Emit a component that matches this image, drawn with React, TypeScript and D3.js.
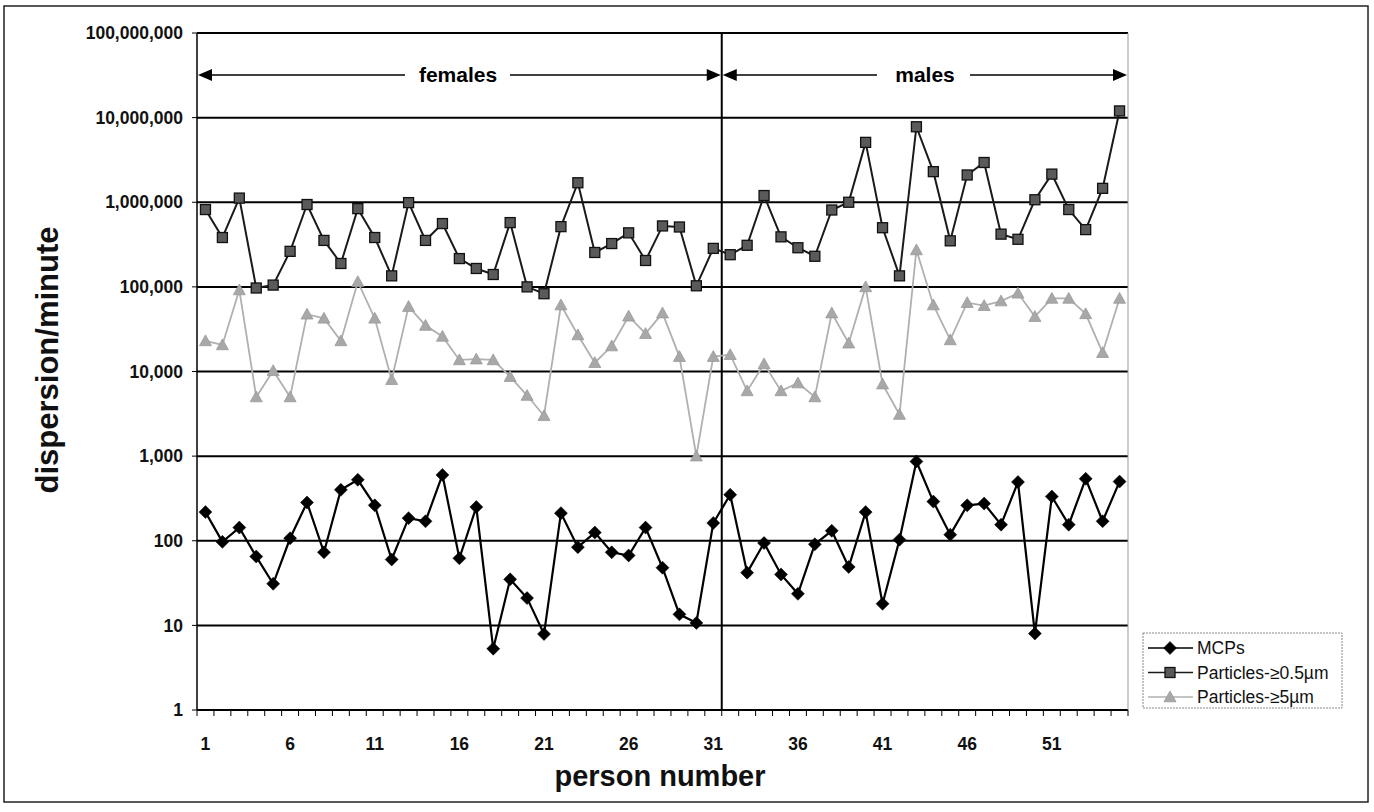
import React from 'react';
import * as d3 from 'd3';

// person numbers 1..55
const persons = d3.range(1, 56);

const mcps = [
  218, 97, 143, 65, 31, 107, 283, 73, 400, 525,
  262, 60, 185, 170, 600, 62, 250, 5.3, 35, 21,
  7.9, 212, 84, 125, 73, 67, 143, 48, 13.5, 10.7,
  162, 350, 42, 94, 40, 23.6, 91, 131, 49, 218,
  18, 103, 865, 290, 118, 262, 275, 155, 494, 8,
  333, 155, 540, 170, 500,
];

const particles05 = [
  820000, 383000, 1120000, 97000, 105000, 263000, 940000, 354000, 189000, 840000,
  383000, 135000, 990000, 354000, 560000, 216000, 165000, 140000, 575000, 100000,
  83000, 515000, 1700000, 255000, 325000, 435000, 205000, 525000, 510000, 103000,
  285000, 240000, 310000, 1200000, 390000, 290000, 230000, 810000, 1000000, 5100000,
  500000, 135000, 7800000, 2300000, 350000, 2100000, 2950000, 420000, 365000, 1070000,
  2150000, 820000, 475000, 1460000, 12000000,
];

const particles5 = [
  23000, 20600, 92000, 5000, 10200, 5000, 47500, 42500, 23000, 115000,
  42500, 8000, 58500, 35000, 26000, 13700, 14000, 13700, 8700, 5200,
  3000, 61000, 27000, 12700, 20000, 45000, 28000, 49000, 15000, 1000,
  15000, 15800, 5900, 12300, 5900, 7300, 5000, 49000, 21600, 100000,
  7100, 3100, 273000, 61000, 23600, 65000, 60000, 68000, 84000, 44500,
  73000, 73000, 48000, 16700, 73000,
];

const xTickLabels = [1, 6, 11, 16, 21, 26, 31, 36, 41, 46, 51];
const yTicks = [1, 10, 100, 1000, 10000, 100000, 1000000, 10000000, 100000000];

const FONT = 'Arial, "Liberation Sans", Helvetica, sans-serif';

function Marker({ type, x, y }) {
  if (type === 'diamond') {
    const s = 6.5;
    return (
      <path
        d={`M${x},${y - s}L${x + s},${y}L${x},${y + s}L${x - s},${y}Z`}
        fill="#000"
        stroke="#000"
        strokeWidth={0.5}
      />
    );
  }
  if (type === 'square') {
    const s = 5;
    return (
      <rect x={x - s} y={y - s} width={2 * s} height={2 * s} fill="#5a5a5a" stroke="#111" strokeWidth={1.3} />
    );
  }
  const s = 6;
  return (
    <path
      d={`M${x},${y - s}L${x + s},${y + s * 0.8}L${x - s},${y + s * 0.8}Z`}
      fill="#a8a8a8"
      stroke="#999"
      strokeWidth={0.8}
    />
  );
}

export default function App() {
  const left = 197;
  const right = 1128;
  const top = 33;
  const bottom = 710;

  const x = d3.scaleBand().domain(persons).range([left, right]).paddingInner(0).paddingOuter(0);
  const cx = (p) => x(p) + x.bandwidth() / 2;
  const y = d3.scaleLog().domain([1, 1e8]).range([bottom, top]);
  const fmt = d3.format(',');

  const series = [
    { name: 'Particles-≥5µm', data: particles5, stroke: '#b0b0b0', width: 1.8, marker: 'triangle' },
    { name: 'Particles-≥0.5µm', data: particles05, stroke: '#1a1a1a', width: 2, marker: 'square' },
    { name: 'MCPs', data: mcps, stroke: '#000', width: 2.2, marker: 'diamond' },
  ];

  const line = d3
    .line()
    .x((d) => d[0])
    .y((d) => d[1]);

  const divider = x(32);
  const arrowY = 75;

  const arrowHead = (px, dir) => {
    const l = 14;
    const h = 6;
    return `M${px},${arrowY}L${px - dir * l},${arrowY - h}L${px - dir * l},${arrowY + h}Z`;
  };

  const legendItems = [series[2], series[1], series[0]];

  return (
    <svg width={1374} height={812} style={{ position: 'absolute', left: 0, top: 0, background: '#fff' }}>
      <rect x={0} y={0} width={1374} height={812} fill="#fff" />
      {/* outer frame */}
      <rect x={4} y={6} width={1364} height={796} fill="none" stroke="#222" strokeWidth={1.5} />

      {/* gridlines */}
      {yTicks.map((t) => (
        <g key={t}>
          <line x1={left} x2={right} y1={y(t)} y2={y(t)} stroke="#000" strokeWidth={2} />
          <line x1={left - 5} x2={left} y1={y(t)} y2={y(t)} stroke="#000" strokeWidth={1} />
          <text
            x={183}
            y={y(t)}
            dy="0.35em"
            textAnchor="end"
            fontFamily={FONT}
            fontWeight="bold"
            fontSize={17.5}
            fill="#111"
          >
            {fmt(t)}
          </text>
        </g>
      ))}

      {/* plot area right border */}
      <line x1={right} x2={right} y1={top} y2={bottom} stroke="#999" strokeWidth={1} />
      {/* y axis */}
      <line x1={left} x2={left} y1={top} y2={bottom} stroke="#000" strokeWidth={1.5} />
      {/* females / males divider */}
      <line x1={divider} x2={divider} y1={top} y2={bottom} stroke="#000" strokeWidth={2} />

      {/* x ticks */}
      {persons.concat([56]).map((p) => {
        const px = p === 56 ? right : x(p);
        return <line key={p} x1={px} x2={px} y1={bottom} y2={bottom + 6} stroke="#000" strokeWidth={1} />;
      })}
      {xTickLabels.map((p) => (
        <text
          key={p}
          x={cx(p)}
          y={750}
          textAnchor="middle"
          fontFamily={FONT}
          fontWeight="bold"
          fontSize={17.5}
          fill="#111"
        >
          {p}
        </text>
      ))}

      {/* group arrows */}
      <g stroke="#000" strokeWidth={1.5}>
        <line x1={left + 12} x2={405} y1={arrowY} y2={arrowY} />
        <line x1={510} x2={divider - 12} y1={arrowY} y2={arrowY} />
        <line x1={divider + 12} x2={877} y1={arrowY} y2={arrowY} />
        <line x1={970} x2={right - 12} y1={arrowY} y2={arrowY} />
      </g>
      <path d={arrowHead(left + 1, -1)} fill="#000" />
      <path d={arrowHead(divider - 1, 1)} fill="#000" />
      <path d={arrowHead(divider + 1, -1)} fill="#000" />
      <path d={arrowHead(right - 1, 1)} fill="#000" />
      <text x={458} y={arrowY} dy="0.35em" textAnchor="middle" fontFamily={FONT} fontWeight="bold" fontSize={21}>
        females
      </text>
      <text x={925} y={arrowY} dy="0.35em" textAnchor="middle" fontFamily={FONT} fontWeight="bold" fontSize={21}>
        males
      </text>

      {/* series */}
      {series.map((s) => {
        const pts = s.data.map((v, i) => [cx(persons[i]), y(v)]);
        return (
          <g key={s.name}>
            <path d={line(pts)} fill="none" stroke={s.stroke} strokeWidth={s.width} />
            {pts.map((p, i) => (
              <Marker key={i} type={s.marker} x={p[0]} y={p[1]} />
            ))}
          </g>
        );
      })}

      {/* axis titles */}
      <text
        transform={`translate(47,360) rotate(-90)`}
        textAnchor="middle"
        dy="0.35em"
        fontFamily={FONT}
        fontWeight="bold"
        fontSize={31}
        fill="#111"
      >
        dispersion/minute
      </text>
      <text x={660} y={786} textAnchor="middle" fontFamily={FONT} fontWeight="bold" fontSize={29} fill="#111">
        person number
      </text>

      {/* legend */}
      <rect x={1143} y={633} width={199} height={75} fill="#fff" stroke="#888" strokeWidth={1} strokeDasharray="2,1" />
      {legendItems.map((s, i) => {
        const ly = 648 + i * 24.5;
        return (
          <g key={s.name}>
            <line x1={1148} x2={1193} y1={ly} y2={ly} stroke={s.stroke} strokeWidth={1.3} />
            <Marker type={s.marker} x={1170} y={ly} />
            <text x={1197} y={ly} dy="0.35em" fontFamily={FONT} fontSize={17.5} fill="#111">
              {s.name}
            </text>
          </g>
        );
      })}
    </svg>
  );
}
